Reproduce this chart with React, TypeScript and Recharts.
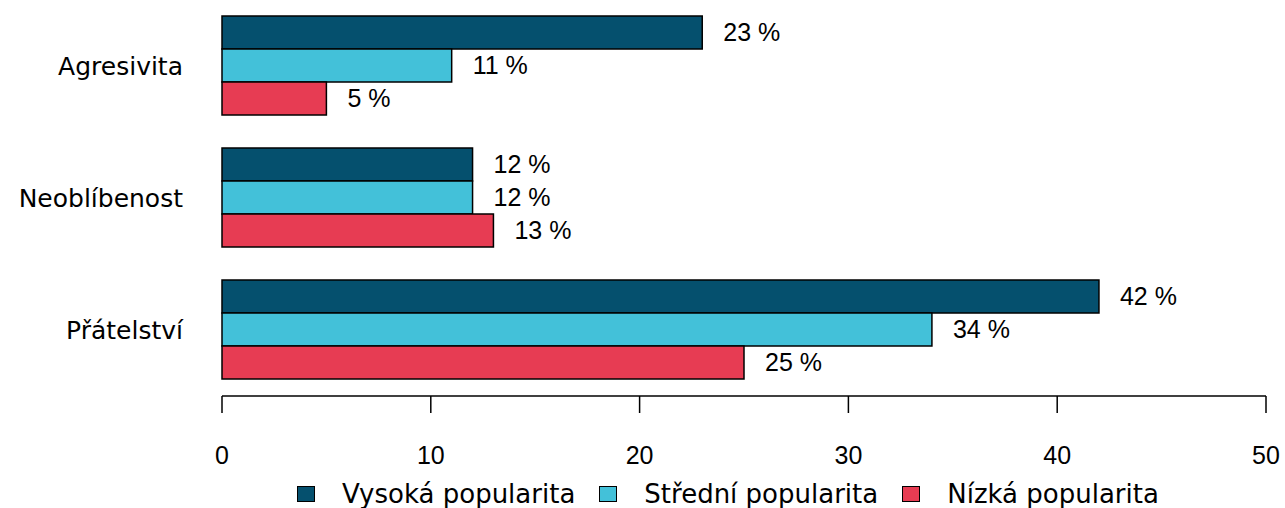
import React from 'react';
import { BarChart, Bar, XAxis, YAxis, Legend, LabelList } from 'recharts';

const categories = ['Agresivita', 'Neoblíbenost', 'Přátelství'];
const vysoka = [23, 12, 42];
const stredni = [11, 12, 34];
const nizka = [5, 13, 25];
const xTicks = [0, 10, 20, 30, 40, 50];
const seriesNames = ['Vysoká popularita', 'Střední popularita', 'Nízká popularita'];
const seriesColors = ['#05506E', '#43C1D9', '#E73C53'];

const data = categories.map((c, i) => ({
  category: c,
  vysoka: vysoka[i],
  stredni: stredni[i],
  nizka: nizka[i],
}));

const LABEL_FONT = '"Liberation Sans", Arial, sans-serif';
const TEXT_FONT = '"DejaVu Sans", sans-serif';

const renderLegend = (props: any) => {
  const payload = [...(props.payload || [])].sort(
    (a: any, b: any) => seriesNames.indexOf(a.value) - seriesNames.indexOf(b.value)
  );
  return (
    <div style={{ display: 'flex', alignItems: 'center', fontFamily: TEXT_FONT, fontSize: 26, color: '#000', whiteSpace: 'nowrap' }}>
      {payload.map((e: any, i: number) => (
        <div key={i} style={{ display: 'flex', alignItems: 'center', marginRight: 24 }}>
          <span
            style={{
              display: 'inline-block',
              width: 16,
              height: 14,
              background: e.color,
              border: '1.5px solid #000',
              marginRight: 27,
            }}
          />
          <span>{e.value}</span>
        </div>
      ))}
    </div>
  );
};

const fmt = (v: any) => `${v} %`;

export default function App() {
  return (
    <div style={{ position: 'absolute', left: 0, top: 0, width: 1285, height: 508, background: '#fff' }}>
      <BarChart
        width={1285}
        height={508}
        data={data}
        layout="vertical"
        margin={{ top: 0, right: 19, left: 0, bottom: 0 }}
        barCategoryGap={16}
        barGap={0}
      >
        <XAxis
          type="number"
          domain={[0, 50]}
          ticks={xTicks}
          height={112}
          axisLine={{ stroke: '#000', strokeWidth: 1.5 }}
          tickLine={{ stroke: '#000', strokeWidth: 1.5 }}
          tickSize={17}
          tickMargin={33}
          tick={{ fill: '#000', fontSize: 25, fontFamily: LABEL_FONT }}
          interval={0}
        />
        <YAxis
          type="category"
          dataKey="category"
          width={222}
          axisLine={false}
          tickLine={false}
          tickSize={0}
          tickMargin={39}
          tick={{ fill: '#000', fontSize: 25, fontFamily: TEXT_FONT }}
        />
        <Legend
          content={renderLegend}
          layout="horizontal"
          verticalAlign="middle"
          align="center"
          wrapperStyle={{ top: 479, left: 297, width: 980 }}
        />
        <Bar dataKey="vysoka" name={seriesNames[0]} fill={seriesColors[0]} stroke="#000" strokeWidth={1.5} isAnimationActive={false}>
          <LabelList dataKey="vysoka" position="right" offset={21} formatter={fmt} style={{ fill: '#000', fontSize: 25, fontFamily: LABEL_FONT }} />
        </Bar>
        <Bar dataKey="stredni" name={seriesNames[1]} fill={seriesColors[1]} stroke="#000" strokeWidth={1.5} isAnimationActive={false}>
          <LabelList dataKey="stredni" position="right" offset={21} formatter={fmt} style={{ fill: '#000', fontSize: 25, fontFamily: LABEL_FONT }} />
        </Bar>
        <Bar dataKey="nizka" name={seriesNames[2]} fill={seriesColors[2]} stroke="#000" strokeWidth={1.5} isAnimationActive={false}>
          <LabelList dataKey="nizka" position="right" offset={21} formatter={fmt} style={{ fill: '#000', fontSize: 25, fontFamily: LABEL_FONT }} />
        </Bar>
      </BarChart>
    </div>
  );
}
